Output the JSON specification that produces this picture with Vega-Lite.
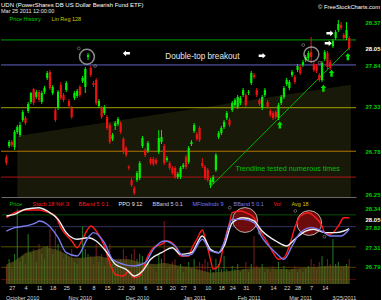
{
"$schema": "https://vega.github.io/schema/vega-lite/v6.json",
"background": "black",
"padding": 0,
"spacing": 0,
"title": {"text": "UDN (PowerShares DB US Dollar Bearish Fund ETF)", "subtitle": "Mar 25 2011 12:00:00", "anchor": "start", "frame": "group", "offset": -14, "fontSize": 6, "subtitleFontSize": 5.5, "font": "Liberation Sans", "subtitleFont": "Liberation Sans", "fontWeight": "normal", "color": "#ffffff", "subtitleColor": "#e8e8e8", "subtitlePadding": 1},
"config": {"view": {"stroke": null}, "axis": {"grid": false, "labelFont": "Liberation Sans", "labelOverlap": false}, "axisX": {"labelOverlap": false, "labelFlush": false}, "legend": {"labelFont": "Liberation Sans"}},
"datasets": {
"candles": [
{"t":-2,"o":26.709,"h":26.733,"l":26.609,"c":26.634,"v":180},
{"t":-1,"o":26.845,"h":26.92,"l":26.82,"c":26.895,"v":250},
{"t":0,"o":26.895,"h":26.92,"l":26.833,"c":26.857,"v":150},
{"t":1,"o":26.833,"h":27.043,"l":26.795,"c":27.019,"v":300},
{"t":2,"o":27.019,"h":27.105,"l":26.994,"c":27.081,"v":750},
{"t":3,"o":26.981,"h":27.143,"l":26.957,"c":27.105,"v":220},
{"t":4,"o":27.167,"h":27.291,"l":27.143,"c":27.267,"v":280},
{"t":5,"o":27.192,"h":27.217,"l":27.105,"c":27.13,"v":200},
{"t":6,"o":27.279,"h":27.391,"l":27.254,"c":27.366,"v":500},
{"t":7,"o":27.391,"h":27.515,"l":27.366,"c":27.502,"v":300},
{"t":8,"o":27.552,"h":27.564,"l":27.353,"c":27.378,"v":350},
{"t":9,"o":27.453,"h":27.539,"l":27.428,"c":27.515,"v":220},
{"t":10,"o":27.515,"h":27.539,"l":27.391,"c":27.415,"v":400},
{"t":11,"o":27.391,"h":27.527,"l":27.366,"c":27.502,"v":300},
{"t":12,"o":27.515,"h":27.589,"l":27.49,"c":27.564,"v":250},
{"t":13,"o":27.688,"h":27.775,"l":27.663,"c":27.75,"v":380},
{"t":14,"o":27.763,"h":27.787,"l":27.539,"c":27.564,"v":550},
{"t":15,"o":27.502,"h":27.601,"l":27.477,"c":27.577,"v":300},
{"t":16,"o":27.291,"h":27.316,"l":27.143,"c":27.167,"v":550},
{"t":17,"o":27.316,"h":27.539,"l":27.291,"c":27.515,"v":400},
{"t":18,"o":27.601,"h":27.639,"l":27.415,"c":27.44,"v":350},
{"t":19,"o":27.477,"h":27.502,"l":27.391,"c":27.415,"v":250},
{"t":20,"o":27.539,"h":27.651,"l":27.515,"c":27.626,"v":300},
{"t":21,"o":27.403,"h":27.428,"l":27.316,"c":27.341,"v":280},
{"t":22,"o":27.316,"h":27.341,"l":27.18,"c":27.205,"v":350},
{"t":23,"o":27.44,"h":27.527,"l":27.415,"c":27.502,"v":220},
{"t":24,"o":27.465,"h":27.552,"l":27.44,"c":27.527,"v":200},
{"t":25,"o":27.577,"h":27.601,"l":27.453,"c":27.477,"v":250},
{"t":26,"o":27.651,"h":27.713,"l":27.626,"c":27.688,"v":580},
{"t":27,"o":27.577,"h":27.825,"l":27.502,"c":27.8,"v":350},
{"t":28,"o":27.948,"h":27.998,"l":27.911,"c":27.973,"v":300},
{"t":29,"o":27.812,"h":27.837,"l":27.7,"c":27.725,"v":280},
{"t":30,"o":27.626,"h":27.651,"l":27.577,"c":27.601,"v":200},
{"t":31,"o":27.663,"h":27.688,"l":27.353,"c":27.378,"v":400},
{"t":32,"o":27.341,"h":27.428,"l":27.316,"c":27.403,"v":220},
{"t":33,"o":27.316,"h":27.341,"l":27.18,"c":27.205,"v":300},
{"t":34,"o":27.254,"h":27.353,"l":27.229,"c":27.329,"v":180},
{"t":35,"o":27.205,"h":27.229,"l":27.043,"c":27.068,"v":350},
{"t":36,"o":27.105,"h":27.13,"l":26.87,"c":26.895,"v":400},
{"t":37,"o":26.932,"h":27.006,"l":26.907,"c":26.981,"v":200},
{"t":38,"o":27.093,"h":27.155,"l":27.043,"c":27.13,"v":180},
{"t":39,"o":27.118,"h":27.205,"l":27.093,"c":27.18,"v":220},
{"t":40,"o":27.13,"h":27.155,"l":26.994,"c":27.019,"v":250},
{"t":41,"o":26.932,"h":26.957,"l":26.746,"c":26.771,"v":350},
{"t":42,"o":26.82,"h":26.845,"l":26.709,"c":26.733,"v":280},
{"t":43,"o":26.585,"h":26.609,"l":26.547,"c":26.572,"v":150},
{"t":44,"o":26.423,"h":26.448,"l":26.337,"c":26.361,"v":300},
{"t":45,"o":26.324,"h":26.349,"l":26.237,"c":26.262,"v":350},
{"t":46,"o":26.423,"h":26.535,"l":26.399,"c":26.51,"v":250},
{"t":47,"o":26.448,"h":26.659,"l":26.423,"c":26.634,"v":300},
{"t":48,"o":26.845,"h":26.969,"l":26.82,"c":26.944,"v":280},
{"t":49,"o":26.795,"h":26.82,"l":26.709,"c":26.733,"v":200},
{"t":50,"o":26.783,"h":26.907,"l":26.759,"c":26.882,"v":220},
{"t":51,"o":26.684,"h":26.709,"l":26.609,"c":26.634,"v":180},
{"t":52,"o":26.684,"h":26.709,"l":26.597,"c":26.622,"v":150},
{"t":53,"o":26.671,"h":26.696,"l":26.609,"c":26.634,"v":120},
{"t":54,"o":26.771,"h":27.043,"l":26.746,"c":26.944,"v":300},
{"t":55,"o":26.895,"h":27.043,"l":26.87,"c":26.957,"v":250},
{"t":56,"o":26.845,"h":26.87,"l":26.609,"c":26.634,"v":630},
{"t":57,"o":26.671,"h":26.721,"l":26.647,"c":26.696,"v":150},
{"t":58,"o":26.634,"h":26.659,"l":26.547,"c":26.572,"v":180},
{"t":59,"o":26.572,"h":26.597,"l":26.485,"c":26.51,"v":220},
{"t":60,"o":26.572,"h":26.597,"l":26.436,"c":26.461,"v":250},
{"t":61,"o":26.461,"h":26.523,"l":26.436,"c":26.498,"v":150},
{"t":62,"o":26.461,"h":26.597,"l":26.436,"c":26.572,"v":200},
{"t":63,"o":26.585,"h":26.634,"l":26.56,"c":26.609,"v":120},
{"t":64,"o":26.709,"h":26.733,"l":26.56,"c":26.585,"v":180},
{"t":65,"o":26.647,"h":26.845,"l":26.622,"c":26.82,"v":220},
{"t":66,"o":26.87,"h":26.92,"l":26.845,"c":26.895,"v":150},
{"t":67,"o":27.031,"h":27.13,"l":27.006,"c":27.105,"v":250},
{"t":68,"o":26.994,"h":27.019,"l":26.907,"c":26.932,"v":180},
{"t":69,"o":27.068,"h":27.093,"l":26.895,"c":26.92,"v":220},
{"t":70,"o":26.634,"h":26.696,"l":26.572,"c":26.597,"v":200},
{"t":71,"o":26.585,"h":26.609,"l":26.423,"c":26.448,"v":250},
{"t":72,"o":26.547,"h":26.572,"l":26.399,"c":26.423,"v":220},
{"t":73,"o":26.361,"h":26.448,"l":26.324,"c":26.423,"v":150},
{"t":74,"o":26.399,"h":26.485,"l":26.374,"c":26.461,"v":120},
{"t":75,"o":26.547,"h":26.759,"l":26.523,"c":26.733,"v":250},
{"t":76,"o":26.957,"h":27.031,"l":26.932,"c":27.006,"v":200},
{"t":77,"o":27.006,"h":27.093,"l":26.981,"c":27.068,"v":150},
{"t":78,"o":27.081,"h":27.167,"l":27.056,"c":27.143,"v":280},
{"t":79,"o":27.192,"h":27.279,"l":27.167,"c":27.254,"v":150},
{"t":80,"o":27.167,"h":27.192,"l":27.081,"c":27.105,"v":120},
{"t":81,"o":27.291,"h":27.403,"l":27.267,"c":27.378,"v":180},
{"t":82,"o":27.353,"h":27.44,"l":27.329,"c":27.415,"v":150},
{"t":83,"o":27.329,"h":27.477,"l":27.304,"c":27.453,"v":200},
{"t":84,"o":27.378,"h":27.465,"l":27.353,"c":27.44,"v":120},
{"t":85,"o":27.477,"h":27.564,"l":27.453,"c":27.539,"v":150},
{"t":86,"o":27.477,"h":27.502,"l":27.329,"c":27.353,"v":220},
{"t":87,"o":27.502,"h":27.539,"l":27.477,"c":27.515,"v":120},
{"t":88,"o":27.626,"h":27.775,"l":27.601,"c":27.75,"v":200},
{"t":89,"o":27.725,"h":27.75,"l":27.676,"c":27.7,"v":480},
{"t":90,"o":27.539,"h":27.564,"l":27.453,"c":27.477,"v":180},
{"t":91,"o":27.415,"h":27.44,"l":27.341,"c":27.366,"v":150},
{"t":92,"o":27.316,"h":27.477,"l":27.291,"c":27.453,"v":200},
{"t":93,"o":27.477,"h":27.564,"l":27.453,"c":27.539,"v":120},
{"t":94,"o":27.391,"h":27.415,"l":27.304,"c":27.329,"v":150},
{"t":95,"o":27.279,"h":27.304,"l":27.205,"c":27.229,"v":120},
{"t":96,"o":27.254,"h":27.279,"l":27.167,"c":27.192,"v":180},
{"t":97,"o":27.267,"h":27.291,"l":27.18,"c":27.205,"v":150},
{"t":98,"o":27.192,"h":27.378,"l":27.167,"c":27.353,"v":220},
{"t":99,"o":27.378,"h":27.477,"l":27.353,"c":27.453,"v":150},
{"t":100,"o":27.453,"h":27.589,"l":27.428,"c":27.564,"v":180},
{"t":101,"o":27.614,"h":27.688,"l":27.589,"c":27.663,"v":150},
{"t":102,"o":27.564,"h":27.663,"l":27.539,"c":27.639,"v":120},
{"t":103,"o":27.725,"h":27.787,"l":27.7,"c":27.763,"v":150},
{"t":104,"o":27.7,"h":27.725,"l":27.614,"c":27.639,"v":180},
{"t":105,"o":27.787,"h":27.862,"l":27.763,"c":27.837,"v":120},
{"t":106,"o":27.825,"h":27.849,"l":27.725,"c":27.75,"v":150},
{"t":107,"o":27.849,"h":27.911,"l":27.825,"c":27.886,"v":120},
{"t":108,"o":27.911,"h":27.973,"l":27.886,"c":27.948,"v":150},
{"t":109,"o":27.936,"h":28.023,"l":27.911,"c":27.998,"v":180},
{"t":110,"o":28.01,"h":28.196,"l":27.874,"c":27.948,"v":250},
{"t":111,"o":27.862,"h":27.886,"l":27.763,"c":27.787,"v":200},
{"t":112,"o":27.837,"h":27.862,"l":27.75,"c":27.775,"v":150},
{"t":113,"o":27.725,"h":27.75,"l":27.639,"c":27.663,"v":220},
{"t":114,"o":27.663,"h":27.899,"l":27.639,"c":27.874,"v":280},
{"t":115,"o":27.923,"h":28.035,"l":27.899,"c":28.01,"v":180},
{"t":116,"o":27.998,"h":28.023,"l":27.8,"c":27.825,"v":250},
{"t":117,"o":27.886,"h":27.911,"l":27.787,"c":27.812,"v":200},
{"t":118,"o":28.085,"h":28.171,"l":28.06,"c":28.147,"v":450},
{"t":119,"o":28.184,"h":28.283,"l":28.159,"c":28.258,"v":200},
{"t":120,"o":28.283,"h":28.407,"l":28.258,"c":28.358,"v":220},
{"t":121,"o":28.345,"h":28.383,"l":28.283,"c":28.308,"v":150},
{"t":122,"o":28.221,"h":28.246,"l":28.159,"c":28.184,"v":180},
{"t":123,"o":28.184,"h":28.383,"l":28.159,"c":28.283,"v":200},
{"t":124,"o":28.184,"h":28.209,"l":28.035,"c":28.06,"v":250}
],
"levels": [
{"lvl":"R2","p":28.16},{"lvl":"R1","p":27.85},{"lvl":"M","p":27.32},{"lvl":"S1","p":26.78},{"lvl":"S2","p":26.46}
],
"osc": [
{"s":"Stoch","t":-2,"v":77.1},{"s":"Stoch","t":1,"v":82.9},{"s":"Stoch","t":5,"v":86},{"s":"Stoch","t":10,"v":86},{"s":"Stoch","t":13,"v":83.7},{"s":"Stoch","t":16,"v":79.1},{"s":"Stoch","t":18,"v":65.5},{"s":"Stoch","t":22,"v":50},{"s":"Stoch","t":24,"v":42.2},{"s":"Stoch","t":26,"v":52.3},{"s":"Stoch","t":28,"v":64.3},{"s":"Stoch","t":29,"v":67.4},{"s":"Stoch","t":31,"v":61.6},{"s":"Stoch","t":34,"v":44.2},{"s":"Stoch","t":36,"v":24.8},{"s":"Stoch","t":38,"v":11.3},{"s":"Stoch","t":41,"v":9.3},{"s":"Stoch","t":43,"v":15.1},{"s":"Stoch","t":45,"v":7.3},{"s":"Stoch","t":47,"v":9.3},{"s":"Stoch","t":50,"v":32.6},{"s":"Stoch","t":52,"v":42.2},{"s":"Stoch","t":55,"v":46.2},{"s":"Stoch","t":57,"v":50},{"s":"Stoch","t":60,"v":44.2},{"s":"Stoch","t":62,"v":32.6},{"s":"Stoch","t":65,"v":32.6},{"s":"Stoch","t":66,"v":40.3},{"s":"Stoch","t":68,"v":52},{"s":"Stoch","t":70,"v":62.8},{"s":"Stoch","t":71,"v":53.8},{"s":"Stoch","t":73,"v":28.7},{"s":"Stoch","t":74,"v":17.1},{"s":"Stoch","t":76,"v":20.9},{"s":"Stoch","t":78,"v":48},{"s":"Stoch","t":80,"v":71.3},{"s":"Stoch","t":81,"v":82.9},{"s":"Stoch","t":84,"v":84.9},{"s":"Stoch","t":86,"v":82.9},{"s":"Stoch","t":89,"v":77.1},{"s":"Stoch","t":91,"v":63.6},{"s":"Stoch","t":94,"v":48},{"s":"Stoch","t":96,"v":36.4},{"s":"Stoch","t":98,"v":28.7},{"s":"Stoch","t":100,"v":30.6},{"s":"Stoch","t":102,"v":44.2},{"s":"Stoch","t":104,"v":65.5},{"s":"Stoch","t":106,"v":79.1},{"s":"Stoch","t":109,"v":82.9},{"s":"Stoch","t":111,"v":79.1},{"s":"Stoch","t":114,"v":67.4},{"s":"Stoch","t":115,"v":59.7},{"s":"Stoch","t":117,"v":57.8},{"s":"Stoch","t":120,"v":67.4},{"s":"Stoch","t":122,"v":77.1},{"s":"Stoch","t":124,"v":77.1},
{"s":"PPO","t":-2,"v":79.1},{"s":"PPO","t":1,"v":81},{"s":"PPO","t":5,"v":86.9},{"s":"PPO","t":10,"v":88.7},{"s":"PPO","t":13,"v":84.9},{"s":"PPO","t":17,"v":75.2},{"s":"PPO","t":20,"v":59.7},{"s":"PPO","t":24,"v":52},{"s":"PPO","t":28,"v":53.8},{"s":"PPO","t":31,"v":50},{"s":"PPO","t":35,"v":36.4},{"s":"PPO","t":38,"v":22.9},{"s":"PPO","t":42,"v":17.1},{"s":"PPO","t":45,"v":9.3},{"s":"PPO","t":48,"v":15.1},{"s":"PPO","t":51,"v":28.7},{"s":"PPO","t":55,"v":36.4},{"s":"PPO","t":59,"v":42.2},{"s":"PPO","t":62,"v":34.5},{"s":"PPO","t":66,"v":36.4},{"s":"PPO","t":70,"v":55.8},{"s":"PPO","t":73,"v":40.3},{"s":"PPO","t":76,"v":36.4},{"s":"PPO","t":78,"v":44.2},{"s":"PPO","t":81,"v":71.3},{"s":"PPO","t":85,"v":77.1},{"s":"PPO","t":89,"v":73.3},{"s":"PPO","t":92,"v":61.6},{"s":"PPO","t":97,"v":50},{"s":"PPO","t":101,"v":44.2},{"s":"PPO","t":104,"v":52},{"s":"PPO","t":108,"v":61.6},{"s":"PPO","t":111,"v":63.6},{"s":"PPO","t":115,"v":59.7},{"s":"PPO","t":119,"v":59.7},{"s":"PPO","t":122,"v":61.6},{"s":"PPO","t":124,"v":64.3},
{"s":"MFI","t":-2,"v":61.6},{"s":"MFI","t":1,"v":65.5},{"s":"MFI","t":5,"v":67.4},{"s":"MFI","t":9,"v":71.3},{"s":"MFI","t":10,"v":73.3},{"s":"MFI","t":13,"v":69.4},{"s":"MFI","t":17,"v":53.8},{"s":"MFI","t":20,"v":36.4},{"s":"MFI","t":24,"v":32.6},{"s":"MFI","t":28,"v":53.8},{"s":"MFI","t":30,"v":59.7},{"s":"MFI","t":34,"v":48},{"s":"MFI","t":37,"v":28.7},{"s":"MFI","t":41,"v":22.9},{"s":"MFI","t":45,"v":20.9},{"s":"MFI","t":49,"v":24.8},{"s":"MFI","t":52,"v":40.3},{"s":"MFI","t":56,"v":50},{"s":"MFI","t":60,"v":44.2},{"s":"MFI","t":63,"v":32.6},{"s":"MFI","t":66,"v":34.5},{"s":"MFI","t":70,"v":52},{"s":"MFI","t":73,"v":38.4},{"s":"MFI","t":76,"v":36.4},{"s":"MFI","t":78,"v":48},{"s":"MFI","t":81,"v":75.2},{"s":"MFI","t":85,"v":75.2},{"s":"MFI","t":89,"v":71.3},{"s":"MFI","t":92,"v":53.8},{"s":"MFI","t":97,"v":36.4},{"s":"MFI","t":100,"v":28.7},{"s":"MFI","t":103,"v":44.2},{"s":"MFI","t":106,"v":59.7},{"s":"MFI","t":110,"v":65.5},{"s":"MFI","t":114,"v":61.6},{"s":"MFI","t":117,"v":55.8},{"s":"MFI","t":121,"v":55.8},{"s":"MFI","t":124,"v":63.6}
],
"avg": [
{"t":-2,"a":197},{"t":1,"a":230},{"t":5,"a":310},{"t":10,"a":347},{"t":12,"a":373},{"t":16,"a":347},{"t":19,"a":313},{"t":22,"a":263},{"t":26,"a":263},{"t":32,"a":280},{"t":37,"a":247},{"t":43,"a":247},{"t":48,"a":213},{"t":53,"a":197},{"t":56,"a":213},{"t":62,"a":180},{"t":66,"a":163},{"t":73,"a":113},{"t":80,"a":130},{"t":90,"a":163},{"t":102,"a":147},{"t":108,"a":163},{"t":116,"a":180},{"t":124,"a":180}
]
},
"resolve": {"scale": {"x": "shared", "y": "independent", "color": "independent", "fill": "independent", "stroke": "independent", "shape": "independent"}, "axis": {"x": "independent", "y": "independent"}, "legend": {"color": "independent", "fill": "independent"}},
"vconcat": [
{
"width": 355, "height": 197,
"title": {"text": "© FreeStockCharts.com", "anchor": "end", "offset": -10, "fontSize": 5.8, "font": "Liberation Sans", "fontWeight": "normal", "color": "#ffffff"},
"layer": [
{
"data": {"values": [{"t": 2, "p": 26.97}, {"t": 124.6, "p": 27.603}]},
"mark": {"type": "area"},
"encoding": {
"x": {"field": "t", "type": "quantitative", "scale": {"domain": [-2.15, 124.65], "nice": false, "zero": false}, "axis": {"labels": false, "ticks": false, "domain": true, "domainColor": "#6a6a6a", "grid": false, "title": null}},
"y": {"field": "p", "type": "quantitative", "scale": {"domain": [26.213, 28.655], "nice": false, "zero": false}, "axis": {"orient": "right", "values": [28.37, 28.05, 27.84, 27.33, 26.78, 26.25], "tickCount": 100, "labelOverlap": false, "format": ".2f", "labelColor": {"condition": {"test": "datum.value == 28.05", "value": "#ffffff"}, "value": "#00cc00"}, "labelFontSize": 6, "labelFontWeight": "bold", "labelPadding": 9, "ticks": false, "domain": false, "grid": false, "title": null}},
"y2": {"datum": 26.213},
"fill": {"datum": "Lin Reg 128", "type": "nominal", "scale": {"domain": ["Price History", "Lin Reg 128"], "range": ["#00c000", "#19190a"]}, "legend": {"orient": "none", "legendX": 3, "legendY": 16, "direction": "horizontal", "columns": 2, "title": null, "symbolSize": 0, "symbolStrokeWidth": 0, "symbolOpacity": 0, "labelOffset": 0, "columnPadding": 5, "labelFontSize": 5.5, "labelColor": {"expr": "datum.value == 'Lin Reg 128' ? '#c8c800' : '#00d000'"}}}
}
},
{
"data": {"name": "levels"},
"mark": {"type": "rule", "strokeWidth": 1},
"encoding": {
"y": {"field": "p", "type": "quantitative"},
"stroke": {"field": "lvl", "type": "nominal", "scale": {"domain": ["R2", "R1", "M", "S1", "S2"], "range": ["#00a000", "#6262c8", "#a0a000", "#b07400", "#b01414"]}, "legend": null}
}
},
{
"data": {"values": [{"t": 72.9, "p": 26.337}, {"t": 124.3, "p": 28.072}]},
"mark": {"type": "line", "color": "#00b000", "strokeWidth": 1},
"encoding": {"x": {"field": "t", "type": "quantitative"}, "y": {"field": "p", "type": "quantitative"}}
},
{
"data": {"name": "candles"},
"mark": {"type": "rule", "strokeWidth": 1},
"encoding": {
"x": {"field": "t", "type": "quantitative"},
"y": {"field": "l", "type": "quantitative"},
"y2": {"field": "h"},
"color": {"condition": {"test": "datum.c >= datum.o", "value": "#00ee00"}, "value": "#ee1111"}
}
},
{
"data": {"name": "candles"},
"mark": {"type": "bar", "width": 2.2},
"encoding": {
"x": {"field": "t", "type": "quantitative"},
"y": {"field": "o", "type": "quantitative"},
"y2": {"field": "c"},
"color": {"condition": {"test": "datum.c >= datum.o", "value": "#00ee00"}, "value": "#ee1111"}
}
},
{
"data": {"values": [{"t": 27.6, "p": 27.952}, {"t": 110.1, "p": 27.982}]},
"mark": {"type": "point", "shape": "circle", "filled": false, "size": 220, "stroke": "#c8c8c8", "strokeWidth": 1.5},
"encoding": {"x": {"field": "t", "type": "quantitative"}, "y": {"field": "p", "type": "quantitative"}}
},
{
"data": {"values": [{"t": 24.6, "p": 28.056}, {"t": 30.6, "p": 27.837}, {"t": 107.1, "p": 28.097}, {"t": 113.1, "p": 27.878}]},
"mark": {"type": "point", "shape": "circle", "filled": false, "size": 8, "stroke": "#a0a0a0", "strokeWidth": 0.8},
"encoding": {"x": {"field": "t", "type": "quantitative"}, "y": {"field": "p", "type": "quantitative"}}
},
{
"data": {"values": [{"t": 42.1, "p": 27.994, "dir": "left"}, {"t": 92.0, "p": 27.964, "dir": "right"}, {"t": 116.9, "p": 28.242, "dir": "right"}, {"t": 116.3, "p": 28.118, "dir": "right"}, {"t": 123.5, "p": 27.952, "dir": "up"}, {"t": 117.5, "p": 27.746, "dir": "up"}, {"t": 114.5, "p": 27.56, "dir": "up"}, {"t": 98.5, "p": 27.105, "dir": "up"}]},
"mark": {"type": "point", "filled": true, "size": 50, "opacity": 1},
"encoding": {
"x": {"field": "t", "type": "quantitative"},
"y": {"field": "p", "type": "quantitative"},
"shape": {"field": "dir", "type": "nominal", "scale": {"domain": ["left", "right", "up"], "range": ["M1,-0.35L-0.1,-0.35L-0.1,-0.8L-1,0L-0.1,0.8L-0.1,0.35L1,0.35Z", "M-1,-0.35L0.1,-0.35L0.1,-0.8L1,0L0.1,0.8L0.1,0.35L-1,0.35Z", "M-0.35,1L-0.35,-0.1L-0.8,-0.1L0,-1L0.8,-0.1L0.35,-0.1L0.35,1Z"]}, "legend": null},
"color": {"condition": {"test": "datum.dir == 'up'", "value": "#00e000"}, "value": "#ffffff"}
}
},
{
"data": {"values": [{"t": 70, "p": 27.948, "txt": "Double-top breakout"}]},
"mark": {"type": "text", "font": "Liberation Sans", "fontSize": 8.2, "color": "#e6e6e6", "align": "center", "baseline": "middle"},
"encoding": {"x": {"field": "t", "type": "quantitative"}, "y": {"field": "p", "type": "quantitative"}, "text": {"field": "txt"}}
},
{
"data": {"values": [{"t": 101.4, "p": 26.56, "txt": "Trendline tested numerous times"}]},
"mark": {"type": "text", "font": "Liberation Sans", "fontSize": 7.2, "color": "#00c000", "align": "center", "baseline": "middle"},
"encoding": {"x": {"field": "t", "type": "quantitative"}, "y": {"field": "p", "type": "quantitative"}, "text": {"field": "txt"}}
}
]
},
{
"width": 355, "height": 86,
"resolve": {"scale": {"y": "independent"}},
"layer": [
{
"data": {"name": "levels"},
"mark": {"type": "rule", "strokeWidth": 1, "opacity": 0.5},
"encoding": {
"y": {"field": "p", "type": "quantitative", "scale": {"domain": [26.343, 28.603], "nice": false, "zero": false}, "axis": {"orient": "right", "values": [28.34, 28.05, 27.82, 27.31, 26.79], "tickCount": 100, "labelOverlap": false, "format": ".2f", "labelColor": {"condition": {"test": "datum.value == 28.05", "value": "#ffffff"}, "value": "#00cc00"}, "labelFontSize": 6, "labelFontWeight": "bold", "labelPadding": 9, "ticks": false, "domain": false, "grid": false, "title": null}},
"stroke": {"field": "lvl", "type": "nominal", "scale": {"domain": ["R2", "R1", "M", "S1", "S2"], "range": ["#00a000", "#6262c8", "#a0a000", "#b07400", "#b01414"]}, "legend": null}
}
},
{
"data": {"name": "candles"},
"mark": {"type": "rule", "strokeWidth": 1.1, "opacity": 0.8},
"encoding": {
"x": {"field": "t", "type": "quantitative", "scale": {"domain": [-2.15, 124.65], "nice": false, "zero": false}, "axis": {"values": [0,3.8,5,10,15,20,25,30,35,40,44,46,49,54,59,63,67,72,77,81,86,87,91,96,101,105,106,110,115,122], "tickCount": 100, "labelExpr": "[['27',''],['','October 2010'],['4',''],['11',''],['18',''],['25',''],['1','Nov 2010'],['8',''],['15',''],['22',''],['29',''],['','Dec 2010'],['6',''],['13',''],['20',''],['27',''],['3','Jan 2011'],['10',''],['18',''],['24',''],['31',''],['','Feb 2011'],['7',''],['14',''],['22',''],['28',''],['','Mar 2011'],['7',''],['14',''],['','3/25/2011']][indexof([0,3.8,5,10,15,20,25,30,35,40,44,46,49,54,59,63,67,72,77,81,86,87,91,96,101,105,106,110,115,122], datum.value)]", "labelOverlap": false, "labelFlush": false, "labelBound": false, "ticks": false, "domain": false, "grid": false, "title": null, "labelFontSize": 5.5, "labelColor": "#d8d8d8", "labelPadding": 1, "labelLineHeight": 10}},
"y": {"field": "v", "type": "quantitative", "scale": {"domain": [0, 860], "nice": false, "zero": true}, "axis": null},
"y2": {"datum": 0},
"color": {"condition": {"test": "datum.c >= datum.o", "value": "#2a8a2a"}, "value": "#8a2020"}
}
},
{
"data": {"name": "avg"},
"mark": {"type": "area", "fill": "#5c5c18", "opacity": 0.65},
"encoding": {
"x": {"field": "t", "type": "quantitative"},
"y": {"field": "a", "type": "quantitative", "scale": {"domain": [0, 860], "nice": false, "zero": true}, "axis": null},
"y2": {"datum": 0}
}
},
{
"data": {"values": [{"t": 85.7, "v": 74.4}, {"t": 109.3, "v": 70.9}]},
"mark": {"type": "point", "shape": "circle", "filled": true, "size": 616, "fill": "#780c0c", "fillOpacity": 0.9, "stroke": "#b0b0b0", "strokeWidth": 1},
"encoding": {
"x": {"field": "t", "type": "quantitative"},
"y": {"field": "v", "type": "quantitative", "scale": {"domain": [0, 100], "nice": false, "zero": false}, "axis": null}
}
},
{
"data": {"name": "osc"},
"mark": {"type": "line", "interpolate": "monotone", "strokeWidth": 1.4},
"encoding": {
"x": {"field": "t", "type": "quantitative"},
"y": {"field": "v", "type": "quantitative", "scale": {"domain": [0, 100], "nice": false, "zero": false}, "axis": null},
"color": {"field": "s", "type": "nominal", "scale": {"domain": ["Price", "Stoch", "BB1", "PPO", "BB2", "MFI", "BB3", "Vol", "Avg"], "range": ["#00c000", "#ff1a1a", "#ff1a1a", "#f0f0f0", "#d0d0e0", "#7b7bf0", "#7b7bf0", "#ff1a1a", "#c8c800"]}, "legend": {"orient": "none", "legendX": 3, "legendY": 3, "direction": "horizontal", "columns": 9, "title": null, "symbolSize": 0, "symbolStrokeWidth": 0, "symbolOpacity": 0, "labelOffset": 0, "columnPadding": 4, "labelFontSize": 5.5, "labelExpr": "['Price','Stoch 18 %K 3','BBand 5 0.1','PPO 9 12','BBand 5 0.1','MFlowIndx 9','BBand 5 0.1','Vol','Avg 18'][indexof(['Price','Stoch','BB1','PPO','BB2','MFI','BB3','Vol','Avg'], datum.value)]", "labelColor": {"expr": "['#00c000','#ff1a1a','#ff1a1a','#f0f0f0','#d0d0e0','#7b7bf0','#7b7bf0','#ff1a1a','#c8c800'][indexof(['Price','Stoch','BB1','PPO','BB2','MFI','BB3','Vol','Avg'], datum.value)]"}}}
}
},
{
"data": {"values": [{"t": 80.1, "v": 88.7}, {"t": 91.1, "v": 59.7}, {"t": 104.2, "v": 84.9}, {"t": 114.9, "v": 55}]},
"mark": {"type": "point", "shape": "circle", "filled": false, "size": 8, "stroke": "#a0a0a0", "strokeWidth": 0.8},
"encoding": {
"x": {"field": "t", "type": "quantitative"},
"y": {"field": "v", "type": "quantitative", "scale": {"domain": [0, 100], "nice": false, "zero": false}, "axis": null}
}
}
]
}
]
}
